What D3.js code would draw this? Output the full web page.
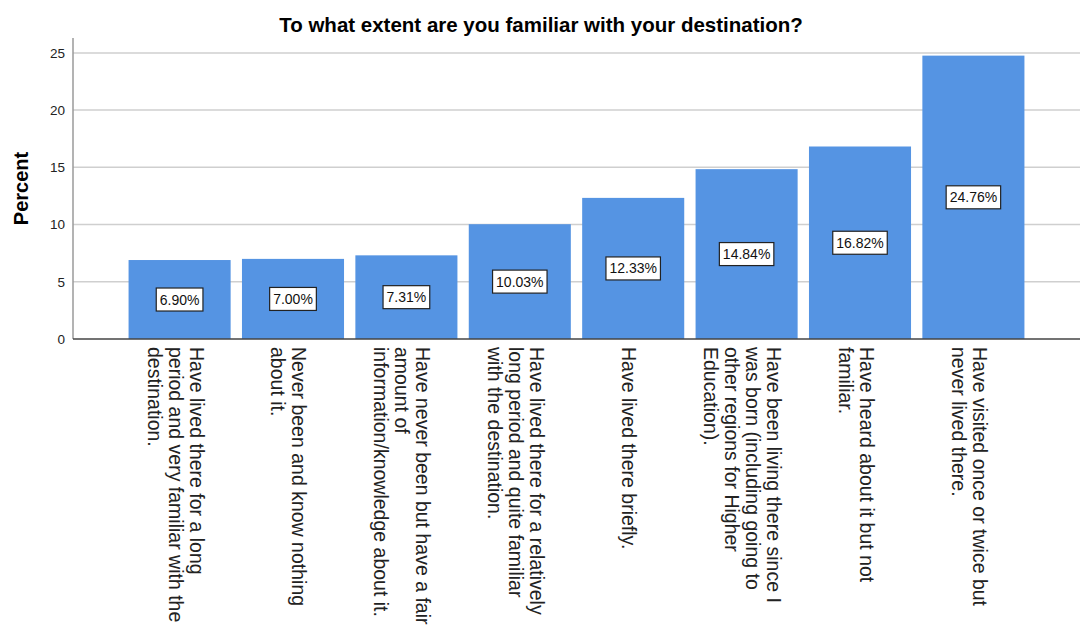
<!DOCTYPE html>
<html>
<head>
<meta charset="utf-8">
<script src="https://cdn.jsdelivr.net/npm/d3@7"></script>
<style>
  html, body { margin: 0; padding: 0; background: #fff; }
  svg { display: block; font-family: "Liberation Sans", Arial, sans-serif; }
</style>
</head>
<body>
<svg id="chart" width="1083" height="628"></svg>
<script>
// Response categories (line breaks marked with "\n") and their percentages
const categories = [
  "Have lived there for a long\nperiod and very familiar with the\ndestination.",
  "Never been and know nothing\nabout it.",
  "Have never been but have a fair\namount of\ninformation/knowledge about it.",
  "Have lived there for a relatively\nlong period and quite familiar\nwith the destination.",
  "Have lived there briefly.",
  "Have been living there since I\nwas born (including going to\nother regions for Higher\nEducation).",
  "Have heard about it but not\nfamiliar.",
  "Have visited once or twice but\nnever lived there."
];
const percents = [6.90, 7.00, 7.31, 10.03, 12.33, 14.84, 16.82, 24.76];
const yTicks = [0, 5, 10, 15, 20, 25];
const titleText = "To what extent are you familiar with your destination?";
const yAxisTitle = "Percent";

const svg = d3.select("#chart");
const plot = { left: 73, right: 1080, top: 38, bottom: 339 };

const x = d3.scaleBand()
  .domain(categories)
  .range([plot.left, plot.right])
  .paddingInner(0.1)
  .paddingOuter(0.49);

const y = d3.scaleLinear()
  .domain([0, 26.3])
  .range([plot.bottom, plot.top]);

// Horizontal gridlines
svg.append("g")
  .selectAll("line")
  .data(yTicks.filter(d => d > 0))
  .join("line")
  .attr("x1", plot.left).attr("x2", plot.right)
  .attr("y1", d => y(d)).attr("y2", d => y(d))
  .attr("stroke", "#cfcfcf")
  .attr("stroke-width", 1.5);

// Y axis with labels only (no tick marks)
const yAxis = d3.axisLeft(y).tickValues(yTicks).tickSize(0).tickPadding(8);
const gy = svg.append("g")
  .attr("transform", `translate(${plot.left},0)`)
  .call(yAxis);
gy.select(".domain").remove();
gy.selectAll("text")
  .attr("font-size", 13.5)
  .attr("fill", "#222")
  .style("font-family", "'Liberation Sans', Arial, sans-serif");

gy.append("line")
  .attr("x1", 0).attr("x2", 0)
  .attr("y1", plot.top).attr("y2", plot.bottom)
  .attr("stroke", "#9a9a9a")
  .attr("stroke-width", 1.5);

// Bars
svg.append("g")
  .selectAll("rect")
  .data(categories)
  .join("rect")
  .attr("x", d => x(d))
  .attr("width", x.bandwidth())
  .attr("y", (d, i) => y(percents[i]))
  .attr("height", (d, i) => y(0) - y(percents[i]))
  .attr("fill", "#5594e3");

// X axis baseline
svg.append("line")
  .attr("x1", plot.left).attr("x2", plot.right)
  .attr("y1", plot.bottom).attr("y2", plot.bottom)
  .attr("stroke", "#444")
  .attr("stroke-width", 1.5);

// Value labels in boxes at the middle of each bar
const valueLabels = svg.append("g")
  .selectAll("g")
  .data(categories)
  .join("g")
  .attr("transform", (d, i) => `translate(${x(d) + x.bandwidth() / 2},${y(percents[i] / 2)})`);

valueLabels.each(function(d, i) {
  const g = d3.select(this);
  const t = g.append("text")
    .attr("text-anchor", "middle")
    .attr("dominant-baseline", "central")
    .attr("font-size", 14)
    .attr("fill", "#111")
    .text(percents[i].toFixed(2) + "%");
  const w = t.node().getComputedTextLength();
  g.insert("rect", "text")
    .attr("x", -w / 2 - 3.5)
    .attr("y", -11.5)
    .attr("width", w + 7)
    .attr("height", 23)
    .attr("fill", "#fff")
    .attr("stroke", "#222")
    .attr("stroke-width", 1.2);
});

// Category labels, rotated to read downward
const lineGap = 21;
svg.append("g")
  .selectAll("text")
  .data(categories)
  .join("text")
  .attr("transform", d => `translate(${x(d) + x.bandwidth() / 2 - 4},${plot.bottom + 8}) rotate(90)`)
  .attr("font-size", 19.5)
  .attr("fill", "#222")
  .attr("dominant-baseline", "central")
  .each(function(d) {
    const lines = d.split("\n");
    const n = lines.length;
    d3.select(this).selectAll("tspan")
      .data(lines)
      .join("tspan")
      .attr("x", 0)
      .attr("y", (l, i) => -((n - 1) / 2 - i) * lineGap)
      .text(l => l);
  });

// Title
svg.append("text")
  .attr("x", 541)
  .attr("y", 32)
  .attr("text-anchor", "middle")
  .attr("font-size", 20.5)
  .attr("font-weight", "bold")
  .attr("fill", "#000")
  .text(titleText);

// Y axis title
svg.append("text")
  .attr("transform", `translate(28,${(plot.top + plot.bottom) / 2}) rotate(-90)`)
  .attr("text-anchor", "middle")
  .attr("font-size", 20)
  .attr("font-weight", "bold")
  .attr("fill", "#000")
  .text(yAxisTitle);
</script>
</body>
</html>
